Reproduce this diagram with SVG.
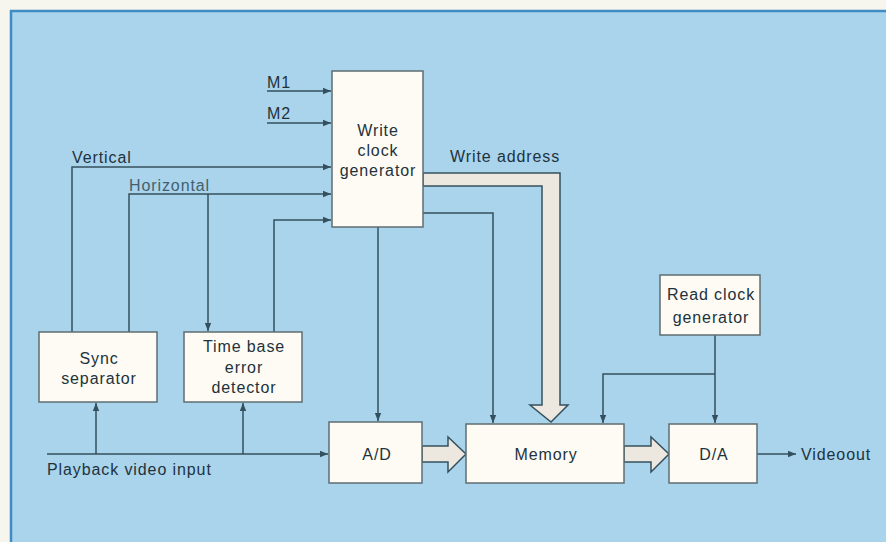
<svg xmlns="http://www.w3.org/2000/svg" width="886" height="542" viewBox="0 0 886 542">
<defs>
<style>
.box{fill:#fdfbf3;stroke:#5f6d72;stroke-width:1.5}
.ln{fill:none;stroke:#34505e;stroke-width:1.5}
.fat{fill:#ece8df;stroke:#34505e;stroke-width:1.5;stroke-linejoin:miter}
.t{font-family:"Liberation Sans",Arial,sans-serif;font-size:16px;letter-spacing:0.9px;fill:#22323c}
.c{text-anchor:middle}
</style>
<marker id="ah" viewBox="0 0 10 10" refX="10" refY="5" markerWidth="9" markerHeight="8" markerUnits="userSpaceOnUse" orient="auto"><path d="M0,1 L10,5 L0,9 Z" fill="#34505e"/></marker>
</defs>
<rect x="0" y="0" width="886" height="542" fill="#f7f6ee"/>
<rect x="11" y="11" width="880" height="540" fill="#a9d4ec" stroke="#3f8cc4" stroke-width="2.5"/>

<g id="connectors">
<path class="ln" d="M267,91 H331" marker-end="url(#ah)"/>
<path class="ln" d="M267,123 H331" marker-end="url(#ah)"/>
<path class="ln" d="M72,332 V167 H331" marker-end="url(#ah)"/>
<path class="ln" d="M129,332 V194 H331" marker-end="url(#ah)"/>
<path class="ln" d="M208,194 V331" marker-end="url(#ah)"/>
<path class="ln" d="M274,332 V220 H331" marker-end="url(#ah)"/>
<path class="ln" d="M96,454 V403" marker-end="url(#ah)"/>
<path class="ln" d="M243,454 V403" marker-end="url(#ah)"/>
<path class="ln" d="M47,454 H328" marker-end="url(#ah)"/>
<path class="ln" d="M378,227 V421" marker-end="url(#ah)"/>
<path class="ln" d="M423,213 H493 V423" marker-end="url(#ah)"/>
<path class="ln" d="M715,335 V423" marker-end="url(#ah)"/>
<path class="ln" d="M715,374 H603 V423" marker-end="url(#ah)"/>
<path class="ln" d="M757,454 H796" marker-end="url(#ah)"/>
<path class="fat" d="M423,173 H560 V405 H568 L551,422 L530,405 H542 V186 H423 Z"/>
<path class="fat" d="M422,446 H448 V437 L466,454 L448,472 V462 H422 Z"/>
<path class="fat" d="M624,446 H651 V437 L669,454 L651,472 V462 H624 Z"/>
</g>

<g id="write-clock"><rect class="box" x="332" y="71" width="91" height="156"/>
<text class="t c" x="378" y="136">Write</text><text class="t c" x="378" y="156">clock</text><text class="t c" x="378" y="176">generator</text></g>
<g id="sync"><rect class="box" x="39" y="332" width="118" height="70"/>
<text class="t c" x="99" y="364">Sync</text><text class="t c" x="99" y="384">separator</text></g>
<g id="tbe"><rect class="box" x="184" y="332" width="118" height="70"/>
<text class="t c" x="244" y="352">Time base</text><text class="t c" x="244" y="373">error</text><text class="t c" x="244" y="393">detector</text></g>
<g id="ad"><rect class="box" x="329" y="422" width="93" height="61"/><text class="t c" x="377" y="460">A/D</text></g>
<g id="memory"><rect class="box" x="466" y="424" width="158" height="59"/><text class="t c" x="546" y="460">Memory</text></g>
<g id="da"><rect class="box" x="669" y="424" width="88" height="59"/><text class="t c" x="714" y="460">D/A</text></g>
<g id="read-clock"><rect class="box" x="660" y="275" width="100" height="60"/>
<text class="t c" x="711" y="300">Read clock</text><text class="t c" x="711" y="323">generator</text></g>

<g id="labels">
<text class="t" x="267" y="88">M1</text>
<text class="t" x="267" y="119">M2</text>
<text class="t" x="72" y="163">Vertical</text>
<text class="t" x="129" y="191" style="fill:#44606e">Horizontal</text>
<text class="t" x="450" y="162">Write address</text>
<text class="t" x="47" y="475">Playback video input</text>
<text class="t" x="801" y="460">Videoout</text>
</g>
</svg>
